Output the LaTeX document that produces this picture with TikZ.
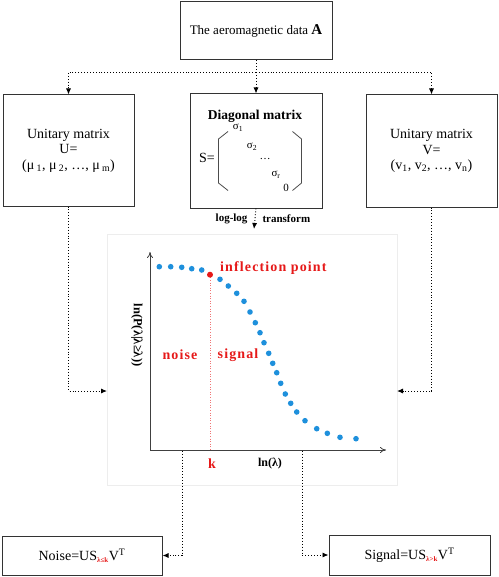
\documentclass[tikz,border=0pt]{standalone}
\usepackage{fontspec}
\setmainfont{Liberation Serif}
\usetikzlibrary{arrows.meta,positioning}

\definecolor{ponto}{RGB}{30,144,220}
\definecolor{verm}{RGB}{230,25,25}

\tikzset{
	caixa/.style={draw=black!80, line width=1pt, align=center, inner sep=0pt,
		font=\fontsize{14}{15.5}\selectfont},
	ligacao/.style={dotted, line width=0.9pt, -{Latex[length=6pt,width=5pt]}},
	rotulo/.style={font=\fontsize{14}{15}\selectfont\bfseries\addfontfeatures{LetterSpace=8}, text=verm},
}

\begin{document}
\begin{tikzpicture}[x=1pt,y=-1pt]
	\useasboundingbox (0,0) rectangle (498,577);

% caixas de cima
	\node[caixa, minimum width=152, minimum height=58, font=\fontsize{13}{15}\selectfont] (data) at (256,31)
		{The aeromagnetic data {\fontsize{15}{15}\selectfont\bfseries A}};
	\node[caixa, minimum width=131, minimum height=111] (umat) at (68.5,150.5)
		{Unitary matrix\\U=\\(μ\,\textsubscript{1}, μ\,\textsubscript{2}, …, μ\,\textsubscript{m})};
	\node[caixa, minimum width=132, minimum height=114] (smat) at (256,151) {};
	\node[caixa, minimum width=131, minimum height=112] (vmat) at (431.5,151)
		{Unitary matrix\\V=\\(v\textsubscript{1}, v\textsubscript{2}, …, v\textsubscript{n})};

% matriz diagonal
	\node[font=\fontsize{13.5}{15}\selectfont\bfseries] (dtit) at (255,116) {Diagonal matrix};
	\node[font=\fontsize{14}{15}\selectfont] (seq) at (207,158) {S=};
	\foreach \s/\px/\py in {σ\textsubscript{1}/238/128, σ\textsubscript{2}/252/147,
			…/265/159, σ\textsubscript{r}/276/175, 0/286/188}
		\node[font=\fontsize{11}{12}\selectfont, inner sep=0pt] at (\px,\py) {\s};
	\draw[black!70, line width=0.8pt] (228,131.5) -- (218.5,139) -- (218.5,183) -- (228,190.5);
	\draw[black!70, line width=0.8pt] (292.5,131.5) -- (301.5,139) -- (301.5,183) -- (292.5,190.5);

% ligacoes de cima
	\coordinate (divide) at (256,72);
	\draw[ligacao] (data.south) -- (smat.north);
	\draw[ligacao] (divide) -| (umat.north);
	\draw[ligacao] (divide) -| (vmat.north);

% grafico
	\node[draw=black!7, line width=1pt, minimum width=290, minimum height=251] (grafico) at (252,359.5) {};
	\coordinate (origem) at (150,450);
	\coordinate (fimx) at (386,450);
	\coordinate (fimy) at (150,252);
	\draw[line width=0.8pt, black!75, -{To[length=6pt,width=6pt]}] (origem) -- (fimx);
	\draw[line width=0.8pt, black!75, -{To[length=6pt,width=6pt]}] (origem) -- (fimy);

	\coordinate (inflexao) at (210,274.7);
	\draw[verm!60, dotted, line width=0.6pt] (inflexao) -- (origem -| inflexao);
	\foreach \px/\py in {159.3/266.7, 170.7/266.7, 181.7/267.3, 191.7/268.7, 201.7/270,
			220/279.3, 228.3/286, 236.7/293.3, 244/301.3, 250/312, 255.3/322.7,
			260/332.7, 264/342.7, 268.7/353.3, 272.7/363.3, 276.7/372.7, 280.7/383.3,
			285.3/394, 290.7/403.3, 296.7/412, 305/420.7, 316.7/428.7, 327.3/433.3,
			340/437.3, 356/438.7}
		\fill[ponto] (\px,\py) circle (2.8);
	\fill[verm] (inflexao) circle (3);

	\node[rotulo, anchor=west, inner sep=0pt] (infl) at (220,268) {inflection point};
	\node[rotulo] (noise) at (180,355) {noise};
	\node[rotulo] (signal) at (238,355) {signal};
	\node[rotulo] (kk) at (212,464) {k};
	\node[font=\fontsize{12}{12}\selectfont\bfseries] (lnl) at (270,464) {ln(λ)};
	\node[font=\fontsize{12.5}{12}\selectfont\bfseries, rotate=-90] (lnp) at (137,335) {ln(P(λ|λ≥λ))};

% transformacao
	\coordinate (seta) at (254,229);
	\draw[ligacao] (smat.south) -- (seta);
	\node[font=\fontsize{11}{10}\selectfont\bfseries, anchor=east] (loglog) at (251,219) {log-log};
	\node[font=\fontsize{11}{10}\selectfont\bfseries, anchor=west] (transf) at (259,219) {transform};

% ligacoes laterais
	\coordinate (entU) at (107,391);
	\coordinate (entV) at (397,391);
	\draw[ligacao] (umat.south) |- (entU);
	\draw[ligacao] (vmat.south) |- (entV);

% caixas de baixo
	\node[caixa, minimum width=160, minimum height=39] (ruido) at (82,555.5)
		{Noise=US\textsubscript{\textcolor{verm}{\fontsize{7}{7}\selectfont\bfseries λ≤k}}V\textsuperscript{T}};
	\node[caixa, minimum width=161, minimum height=40] (sinal) at (409.5,555)
		{Signal=US\textsubscript{\textcolor{verm}{\fontsize{7}{7}\selectfont\bfseries λ>k}}V\textsuperscript{T}};
	\coordinate (corteR) at (182,451);
	\coordinate (corteS) at (302,451);
	\draw[ligacao] (corteR) |- (ruido.east);
	\draw[ligacao] (corteS) |- (sinal.west);

\end{tikzpicture}
\end{document}
